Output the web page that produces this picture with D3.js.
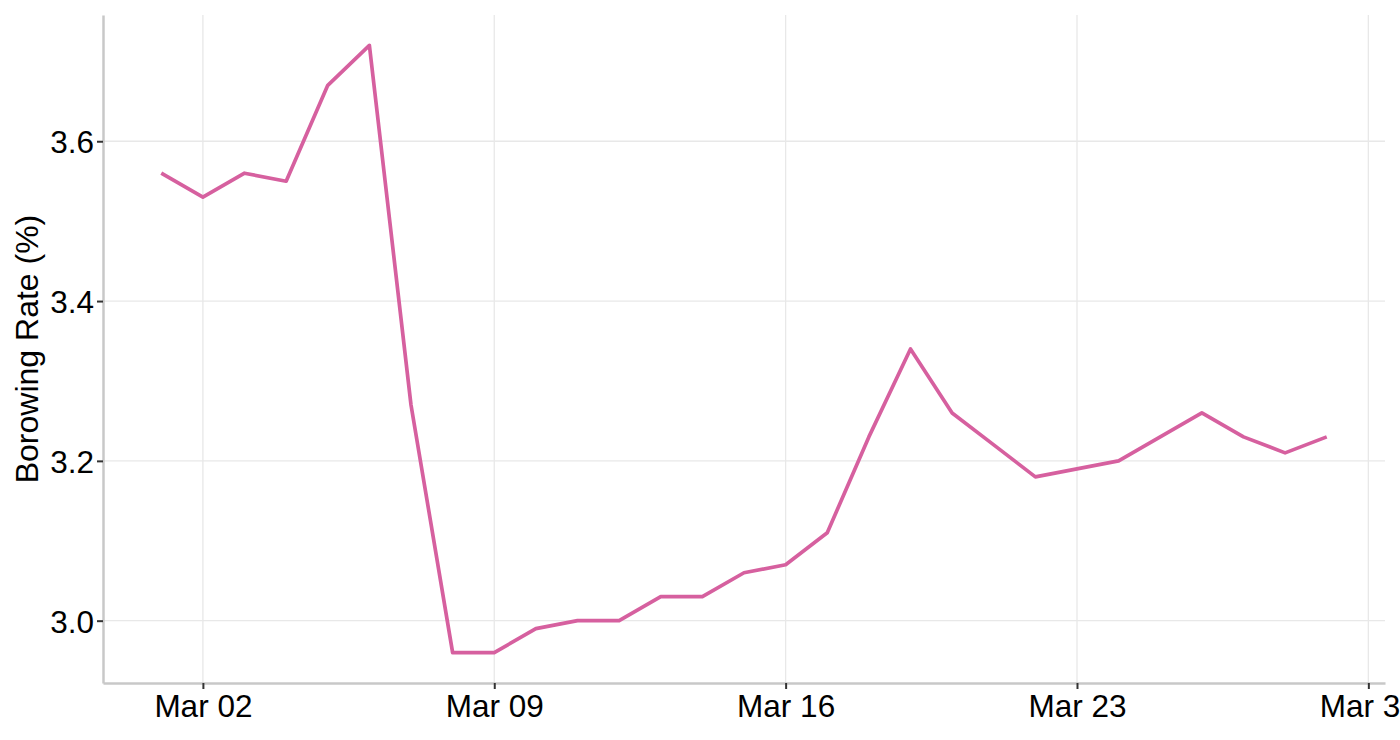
<!DOCTYPE html>
<html>
<head>
<meta charset="utf-8">
<script src="https://cdn.jsdelivr.net/npm/d3@7"></script>
<style>
  html, body { margin: 0; padding: 0; background: #fff; overflow: hidden; }
  svg { display: block; font-family: "Liberation Sans", Arial, sans-serif; }
</style>
</head>
<body>
<svg id="chart" width="1400" height="740"></svg>
<script>
// ===== Borrowing rate, daily, March =====

const dates = [
    '2020-03-01', '2020-03-02', '2020-03-03', '2020-03-04', '2020-03-05',
    '2020-03-06', '2020-03-07', '2020-03-08', '2020-03-09', '2020-03-10',
    '2020-03-11', '2020-03-12', '2020-03-13', '2020-03-14', '2020-03-15',
    '2020-03-16', '2020-03-17', '2020-03-18', '2020-03-19', '2020-03-20',
    '2020-03-21', '2020-03-22', '2020-03-23', '2020-03-24', '2020-03-25',
    '2020-03-26', '2020-03-27', '2020-03-28', '2020-03-29'
];
const rates = [
    3.56, 3.53, 3.56, 3.55, 3.67,
    3.72, 3.27, 2.96, 2.96, 2.99,
    3.00, 3.00, 3.03, 3.03, 3.06,
    3.07, 3.11, 3.23, 3.34, 3.26,
    3.22, 3.18, 3.19, 3.20, 3.23,
    3.26, 3.23, 3.21, 3.23
];
const yTicks = [3.0, 3.2, 3.4, 3.6];
const yTitle = 'Borowing Rate (%)';

const parseDate = d3.timeParse('%Y-%m-%d');
const data = dates.map((d, i) => ({ date: parseDate(d), rate: rates[i] }));

const margin = { top: 15, right: 15, bottom: 57, left: 103 };
const width = 1400, height = 740;
const svg = d3.select('#chart');

// ggplot style 5% padding on both axes
function expand(ext, f) {
    const pad = (ext[1] - ext[0]) * f;
    return [ext[0] - pad, ext[1] + pad];
}
const xExt = d3.extent(data, d => +d.date);
const xDom = expand(xExt, 0.05).map(t => new Date(t));
const yDom = expand(d3.extent(data, d => d.rate), 0.05);

const x = d3.scaleTime().domain(xDom).range([margin.left, width - margin.right]);
const y = d3.scaleLinear().domain(yDom).range([height - margin.bottom, margin.top]);

const xTicks = x.ticks(d3.timeMonday);

// grid
const grid = svg.append('g');
grid.selectAll('.hg').data(yTicks).join('line')
    .attr('x1', margin.left).attr('x2', width - margin.right)
    .attr('y1', d => y(d)).attr('y2', d => y(d))
    .attr('stroke', '#e8e8e8').attr('stroke-width', 1.3);
grid.selectAll('.vg').data(xTicks).join('line')
    .attr('x1', d => x(d)).attr('x2', d => x(d))
    .attr('y1', margin.top).attr('y2', height - margin.bottom)
    .attr('stroke', '#e8e8e8').attr('stroke-width', 1.3);

// axes
const xAxis = svg.append('g')
    .attr('transform', `translate(0,${height - margin.bottom})`)
    .call(d3.axisBottom(x).tickValues(xTicks).tickFormat(d3.timeFormat('%b %d'))
        .tickSizeInner(6).tickSizeOuter(0).tickPadding(6));
const yAxis = svg.append('g')
    .attr('transform', `translate(${margin.left},0)`)
    .call(d3.axisLeft(y).tickValues(yTicks).tickFormat(d3.format('.1f'))
        .tickSizeInner(6).tickSizeOuter(0).tickPadding(3));

[xAxis, yAxis].forEach(ax => {
    ax.select('.domain').attr('stroke', '#c8c8c8').attr('stroke-width', 2.5);
    ax.selectAll('.tick line').attr('stroke', '#333').attr('stroke-width', 2);
    ax.selectAll('.tick text').attr('fill', '#000')
        .style('font-size', '31.5px').style('font-family', '"Liberation Sans", Arial, sans-serif');
});
yAxis.selectAll('.tick text').attr('dy', '0.36em');

// y title
svg.append('text')
    .attr('transform', `translate(38,${(margin.top + height - margin.bottom) / 2}) rotate(-90)`)
    .attr('text-anchor', 'middle')
    .style('font-size', '32px')
    .attr('fill', '#000')
    .text(yTitle);

// line
const line = d3.line().x(d => x(d.date)).y(d => y(d.rate));
svg.append('path')
    .datum(data)
    .attr('d', line)
    .attr('fill', 'none')
    .attr('stroke', '#d6609f')
    .attr('stroke-width', 3.7)
    .attr('stroke-linejoin', 'round');
</script>
</body>
</html>
